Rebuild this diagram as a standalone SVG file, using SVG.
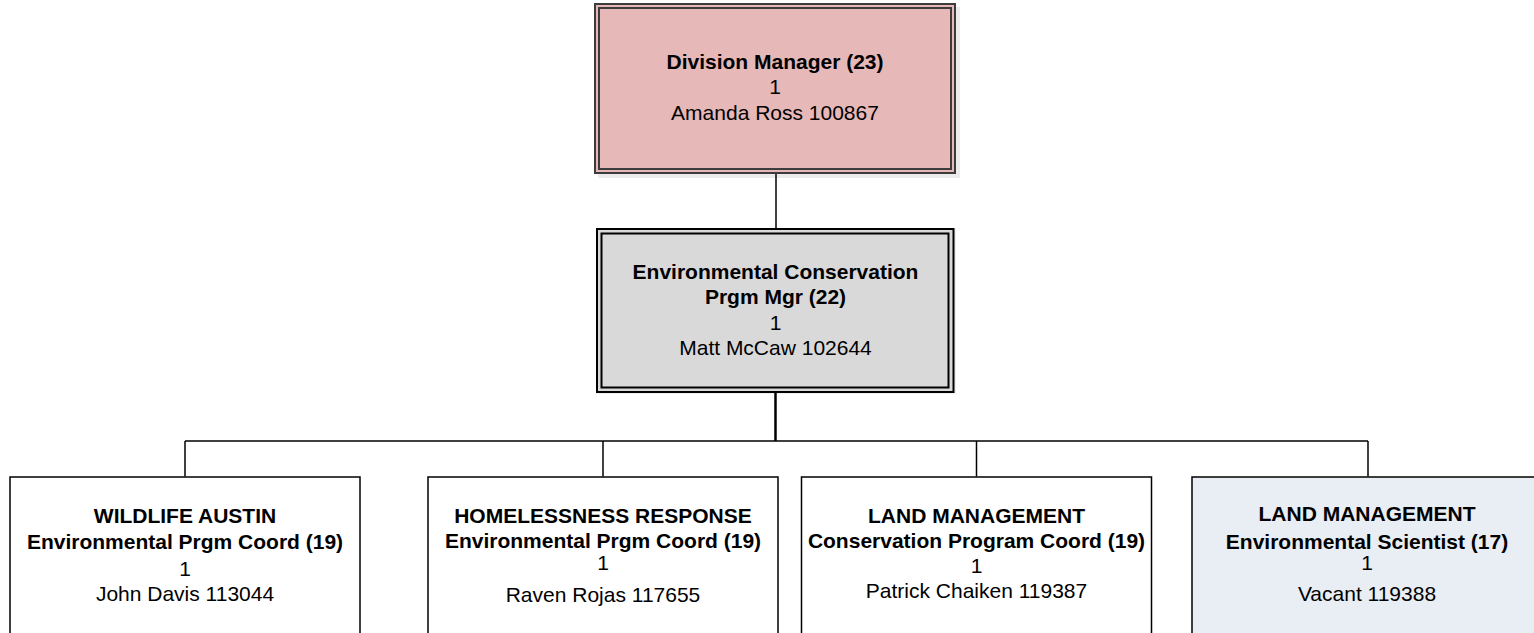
<svg xmlns="http://www.w3.org/2000/svg" width="1534" height="633" viewBox="0 0 1534 633">
<style>
text{font-family:"Liberation Sans",Arial,sans-serif;font-size:21px;fill:#000;text-anchor:middle}
.b{font-weight:bold}
.frame{fill:none;stroke:#3c3c3c;stroke-width:2}
.box{stroke:#000;stroke-width:1.5}
.conn{stroke:#000;fill:none}
</style>
<rect width="1534" height="633" fill="#fff"/>
<g id="division-manager">
<rect x="598" y="7" width="362" height="171" fill="#ececec"/>
<rect x="595" y="4" width="360" height="169" fill="#e6b8b7" stroke="#3c3c3c" stroke-width="2"/>
<rect class="frame" x="599" y="8" width="352" height="161"/>
<text class="b" x="775" y="69">Division Manager (23)</text>
<text x="775" y="94">1</text>
<text x="775" y="120">Amanda Ross 100867</text>
</g>
<g id="env-conservation-mgr">
<rect x="596" y="228" width="360" height="166" fill="#f0f0f0"/>
<rect x="597" y="229" width="356.5" height="163" fill="#d9d9d9" stroke="#000" stroke-width="2"/>
<rect x="601.5" y="233.5" width="347" height="154" fill="none" stroke="#000" stroke-width="2"/>
<text class="b" x="775.5" y="279">Environmental Conservation</text>
<text class="b" x="775.5" y="304">Prgm Mgr (22)</text>
<text x="775.5" y="330">1</text>
<text x="775.5" y="355">Matt McCaw 102644</text>
</g>
<g id="wildlife-austin">
<rect class="box" x="10" y="477" width="350" height="170" fill="#fff"/>
<text class="b" x="185" y="523">WILDLIFE AUSTIN</text>
<text class="b" x="185" y="549">Environmental Prgm Coord (19)</text>
<text x="185" y="576">1</text>
<text x="185" y="601">John Davis 113044</text>
</g>
<g id="homelessness-response">
<rect class="box" x="428" y="477" width="350" height="170" fill="#fff"/>
<text class="b" x="603" y="523">HOMELESSNESS RESPONSE</text>
<text class="b" x="603" y="548">Environmental Prgm Coord (19)</text>
<text x="603" y="570">1</text>
<text x="603" y="602">Raven Rojas 117655</text>
</g>
<g id="land-management-coord">
<rect class="box" x="801.5" y="477" width="350" height="170" fill="#fff"/>
<text class="b" x="976.5" y="523">LAND MANAGEMENT</text>
<text class="b" x="976.5" y="548">Conservation Program Coord (19)</text>
<text x="976.5" y="573">1</text>
<text x="976.5" y="598">Patrick Chaiken 119387</text>
</g>
<g id="land-management-scientist">
<rect class="box" x="1192" y="477" width="350" height="170" fill="#e9edf4"/>
<text class="b" x="1367" y="521">LAND MANAGEMENT</text>
<text class="b" x="1367" y="549">Environmental Scientist (17)</text>
<text x="1367" y="570">1</text>
<text x="1367" y="601">Vacant 119388</text>
</g>
<g id="connectors">
<line class="conn" x1="776" y1="174" x2="776" y2="228" stroke-width="1.5"/>
<line class="conn" x1="775.5" y1="393" x2="775.5" y2="441" stroke-width="2.5"/>
<line class="conn" x1="185" y1="441" x2="1368" y2="441" stroke-width="1.5"/>
<line class="conn" x1="185" y1="441" x2="185" y2="476.5" stroke-width="1.5"/>
<line class="conn" x1="603" y1="441" x2="603" y2="476.5" stroke-width="1.5"/>
<line class="conn" x1="976.5" y1="441" x2="976.5" y2="476.5" stroke-width="1.5"/>
<line class="conn" x1="1368" y1="441" x2="1368" y2="476.5" stroke-width="1.5"/>
</g>
</svg>
